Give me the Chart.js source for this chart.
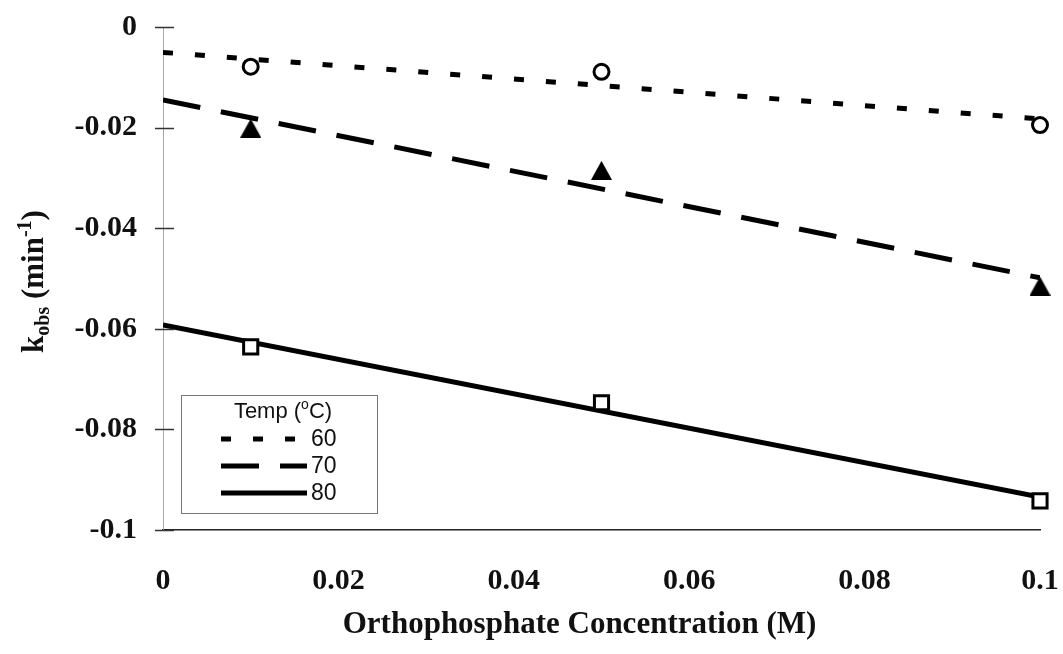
<!DOCTYPE html>
<html>
<head>
<meta charset="utf-8">
<script src="https://cdn.jsdelivr.net/npm/chart.js@4.4.1/dist/chart.umd.min.js"></script>
<style>
  html, body { margin: 0; padding: 0; background: #fff; }
  #wrap { width: 1063px; height: 654px; }
</style>
</head>
<body>
<div id="wrap"><canvas id="chart" width="1063" height="654"></canvas></div>
<script>
// Measured rate constants at three orthophosphate concentrations
const concentration = [0.01, 0.05, 0.1];
const k60 = [-0.0079, -0.0089, -0.0195];
const k70 = [-0.0201, -0.0285, -0.0515];
const k80 = [-0.0636, -0.0747, -0.0942];
const temperatures = ['60', '70', '80'];

// Axis ticks
const xTicks = [0, 0.02, 0.04, 0.06, 0.08, 0.1];
const xTickLabels = ['0', '0.02', '0.04', '0.06', '0.08', '0.1'];
const yTicks = [0, -0.02, -0.04, -0.06, -0.08, -0.1];
const yTickLabels = ['0', '-0.02', '-0.04', '-0.06', '-0.08', '-0.1'];

const SERIF = '"Liberation Serif", "Times New Roman", serif';
const SANS = '"Liberation Sans", Arial, sans-serif';
const serifBold = (size) => ({ family: SERIF, weight: 'bold', size });

// Filled triangle marker, centred on its bounding box
function triangleMarker(w, h) {
  const c = document.createElement('canvas');
  c.width = w; c.height = h;
  const g = c.getContext('2d');
  g.fillStyle = '#000';
  g.beginPath();
  g.moveTo(w / 2, 0);
  g.lineTo(w, h);
  g.lineTo(0, h);
  g.closePath();
  g.fill();
  return c;
}

// Per-series drawing styles
const seriesStyles = [
  { dash: [10, 22], marker: 'circle', radius: 7.5, fill: '#ffffff' },
  { dash: [38, 21], marker: triangleMarker(21, 19), radius: 10, fill: '#000000' },
  { dash: [], marker: 'rect', radius: 10, fill: '#ffffff' }
];
const seriesValues = [k60, k70, k80];

// Least-squares linear trendline across the x-axis range
function fitLine(xs, ys) {
  const n = xs.length;
  const mx = xs.reduce((a, b) => a + b, 0) / n;
  const my = ys.reduce((a, b) => a + b, 0) / n;
  let sxy = 0, sxx = 0;
  for (let i = 0; i < n; i++) {
    sxy += (xs[i] - mx) * (ys[i] - my);
    sxx += (xs[i] - mx) * (xs[i] - mx);
  }
  const slope = sxy / sxx;
  return { slope, intercept: my - slope * mx };
}
const xMin = xTicks[0], xMax = xTicks[xTicks.length - 1];
function trendPoints(ys) {
  const f = fitLine(concentration, ys);
  return [xMin, xMax].map(x => ({ x, y: f.intercept + f.slope * x }));
}

const datasets = [];
seriesValues.forEach((vals, i) => {
  const st = seriesStyles[i];
  datasets.push({
    label: temperatures[i],
    isTrend: true,
    data: trendPoints(vals),
    showLine: true,
    borderColor: '#000',
    borderWidth: 5,
    borderDash: st.dash,
    borderCapStyle: 'butt',
    pointRadius: 0,
    order: 2
  });
  datasets.push({
    label: temperatures[i] + ' data',
    data: concentration.map((x, j) => ({ x, y: vals[j] })),
    showLine: false,
    clip: false,
    pointStyle: st.marker,
    pointRadius: st.radius,
    pointBackgroundColor: st.fill,
    pointBorderColor: '#000',
    pointBorderWidth: 3,
    order: 1
  });
});

// Tick marks crossing the vertical axis
const axisTicks = {
  id: 'axisTicks',
  afterDatasetsDraw(chart) {
    const { ctx, chartArea, scales } = chart;
    ctx.save();
    ctx.strokeStyle = '#333';
    ctx.lineWidth = 1.5;
    yTicks.forEach(v => {
      const y = Math.round(scales.y.getPixelForValue(v)) + 0.5;
      ctx.beginPath();
      ctx.moveTo(chartArea.left - 8, y);
      ctx.lineTo(chartArea.left + 11, y);
      ctx.stroke();
    });
    ctx.restore();
  }
};

// Axis titles: rotated y title with subscript/superscript, and the x title
const axisTitles = {
  id: 'axisTitles',
  afterDraw(chart) {
    const { ctx, chartArea } = chart;
    ctx.save();
    ctx.fillStyle = '#111';

    // x title
    ctx.font = 'bold 31px ' + SERIF;
    ctx.textAlign = 'center';
    ctx.textBaseline = 'alphabetic';
    ctx.fillText('Orthophosphate Concentration (M)', (chartArea.left + chartArea.right) / 2 - 22, 633);

    // y title
    const parts = [
      { t: 'k', size: 31, dy: 0 },
      { t: 'obs', size: 20, dy: 6 },
      { t: ' (min', size: 31, dy: 0 },
      { t: '-1', size: 20, dy: -12 },
      { t: ')', size: 31, dy: 0 }
    ];
    let total = 0;
    parts.forEach(p => { ctx.font = 'bold ' + p.size + 'px ' + SERIF; p.w = ctx.measureText(p.t).width; total += p.w; });
    ctx.translate(43, (chartArea.top + chartArea.bottom) / 2 + 3);
    ctx.rotate(-Math.PI / 2);
    ctx.textAlign = 'left';
    ctx.textBaseline = 'alphabetic';
    let x = -total / 2;
    parts.forEach(p => {
      ctx.font = 'bold ' + p.size + 'px ' + SERIF;
      ctx.fillText(p.t, x, p.dy);
      x += p.w;
    });
    ctx.restore();
  }
};

// Boxed legend inside the plot showing the trendline styles
const trendLegend = {
  id: 'trendLegend',
  afterDraw(chart) {
    const { ctx, chartArea } = chart;
    const left = chartArea.left + 18, top = chartArea.bottom - 135;
    const w = 196, h = 118;
    ctx.save();
    ctx.fillStyle = '#fff';
    ctx.fillRect(left, top, w, h);
    ctx.strokeStyle = '#777';
    ctx.lineWidth = 1;
    ctx.strokeRect(left + 0.5, top + 0.5, w, h);

    // heading: Temp (°C) with a raised small o
    ctx.fillStyle = '#111';
    ctx.textBaseline = 'middle';
    const segs = [
      { t: 'Temp (', size: 22, dy: 0 },
      { t: 'o', size: 14, dy: -7 },
      { t: 'C)', size: 22, dy: 0 }
    ];
    let tw = 0;
    segs.forEach(s => { ctx.font = s.size + 'px ' + SANS; s.w = ctx.measureText(s.t).width; tw += s.w; });
    let x = left + 102 - tw / 2;
    segs.forEach(s => { ctx.font = s.size + 'px ' + SANS; ctx.fillText(s.t, x, top + 17 + s.dy); x += s.w; });

    const trends = chart.data.datasets.filter(d => d.isTrend);
    trends.forEach((d, i) => {
      const y = top + 44 + i * 27;
      ctx.strokeStyle = d.borderColor;
      ctx.lineWidth = d.borderWidth;
      ctx.lineCap = 'butt';
      ctx.setLineDash(d.borderDash || []);
      ctx.beginPath();
      ctx.moveTo(left + 40, y);
      ctx.lineTo(left + 126, y);
      ctx.stroke();
      ctx.setLineDash([]);
      ctx.font = '23px ' + SANS;
      ctx.fillStyle = '#111';
      ctx.textAlign = 'left';
      ctx.fillText(d.label, left + 130, y + 1);
    });
    ctx.restore();
  }
};

new Chart(document.getElementById('chart'), {
  type: 'scatter',
  data: { datasets },
  options: {
    responsive: false,
    animation: false,
    devicePixelRatio: 1,
    layout: { padding: { top: 27, right: 23, left: 0, bottom: 0 } },
    plugins: { legend: { display: false }, tooltip: { enabled: false } },
    scales: {
      x: {
        type: 'linear',
        min: xMin,
        max: xMax,
        afterBuildTicks: (s) => { s.ticks = xTicks.map(v => ({ value: v })); },
        afterFit: (s) => { s.height = 124; s.paddingLeft = 0; s.paddingRight = 0; },
        grid: { display: false, drawTicks: false, tickLength: 0 },
        border: { display: true, color: '#222', width: 1.5 },
        ticks: {
          padding: 33,
          color: '#111',
          font: serifBold(30),
          maxRotation: 0,
          autoSkip: false,
          callback: (v, i) => xTickLabels[i]
        }
      },
      y: {
        type: 'linear',
        min: yTicks[yTicks.length - 1],
        max: yTicks[0],
        afterBuildTicks: (s) => { s.ticks = yTicks.slice().reverse().map(v => ({ value: v })); },
        afterFit: (s) => { s.width = 163; s.paddingTop = 0; s.paddingBottom = 0; },
        grid: { display: false, drawTicks: false, tickLength: 0 },
        border: { display: true, color: '#aaa', width: 1, dash: [3, 4] },
        ticks: {
          padding: 26,
          color: '#111',
          font: serifBold(30),
          autoSkip: false,
          callback: (v) => yTickLabels[yTicks.findIndex(t => Math.abs(t - v) < 1e-9)]
        }
      }
    }
  },
  plugins: [axisTicks, axisTitles, trendLegend]
});
</script>
</body>
</html>
